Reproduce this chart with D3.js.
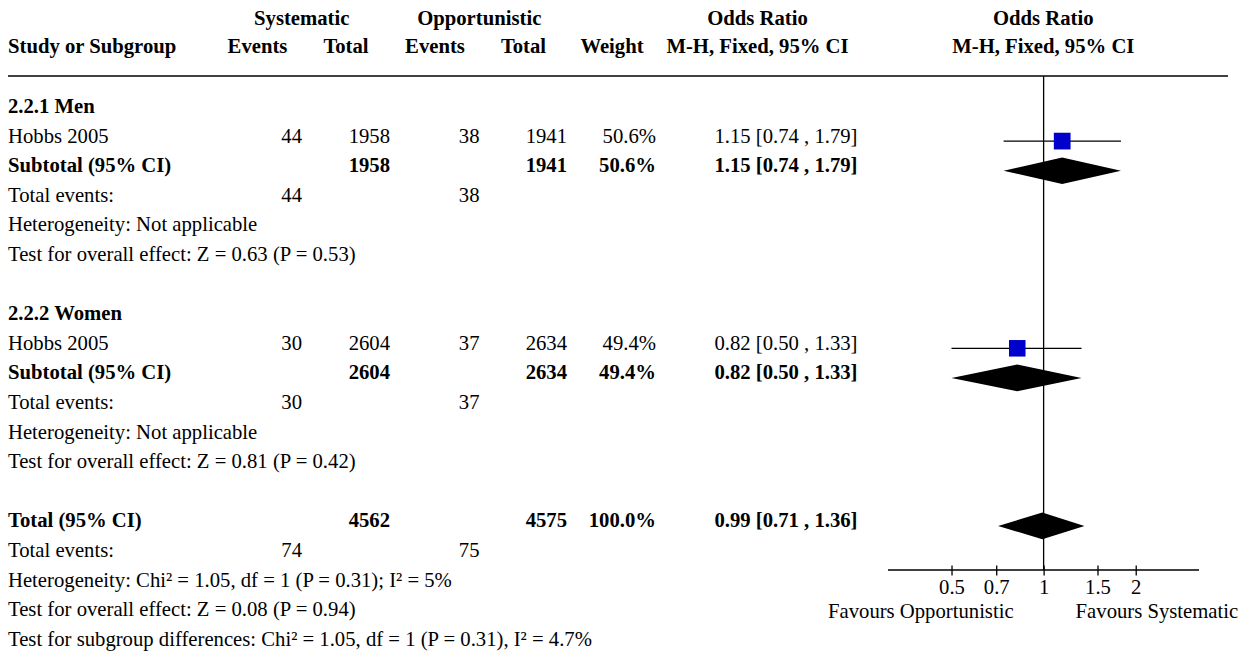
<!DOCTYPE html>
<html>
<head>
<meta charset="utf-8">
<script src="https://cdn.jsdelivr.net/npm/d3@7"></script>
<style>
  html, body { margin: 0; padding: 0; background: #fff; }
  svg text { font-family: "Liberation Serif", "Times New Roman", serif; font-size: 20.7px; fill: #000; }
  .b { font-weight: bold; }
</style>
</head>
<body>
<svg id="chart" width="1243" height="652"></svg>
<script>
// ---- Subgroup studies ----
const subgroupTitles = ["2.2.1 Men", "2.2.2 Women"];
const studyNames = ["Hobbs 2005", "Hobbs 2005"];
const sysEvents = [44, 30];
const sysTotals = [1958, 2604];
const oppEvents = [38, 37];
const oppTotals = [1941, 2634];
const studyWeights = [50.6, 49.4];
const studyOR = [1.15, 0.82];
const studyLow = [0.74, 0.50];
const studyHigh = [1.79, 1.33];

// ---- Subgroup subtotals ----
const subWeights = [50.6, 49.4];
const subOR = [1.15, 0.82];
const subLow = [0.74, 0.50];
const subHigh = [1.79, 1.33];
const subHeterogeneity = ["Heterogeneity: Not applicable", "Heterogeneity: Not applicable"];
const subEffect = ["Test for overall effect: Z = 0.63 (P = 0.53)", "Test for overall effect: Z = 0.81 (P = 0.42)"];

// ---- Pooled total ----
const totalEvents = [74, 75];
const totalN = [4562, 4575];
const totalWeight = [100.0];
const totalOR = [0.99];
const totalLow = [0.71];
const totalHigh = [1.36];
const totalNotes = [
  "Heterogeneity: Chi² = 1.05, df = 1 (P = 0.31); I² = 5%",
  "Test for overall effect: Z = 0.08 (P = 0.94)",
  "Test for subgroup differences: Chi² = 1.05, df = 1 (P = 0.31), I² = 4.7%"
];

// ---- Axis ----
const tickValues = [0.5, 0.7, 1, 1.5, 2];
const tickLabels = ["0.5", "0.7", "1", "1.5", "2"];
const axisDomain = [0.31, 3.22];
const favourLabels = ["Favours Opportunistic", "Favours Systematic"];

const svg = d3.select("#chart");
svg.append("rect").attr("width", 1243).attr("height", 652).attr("fill", "#fff");

const fmt2 = d3.format(".2f");
const fmtW = v => d3.format(".1f")(v) + "%";
const ciText = (e, l, h) => `${fmt2(e)} [${fmt2(l)} , ${fmt2(h)}]`;

// column anchors
const col = { name: 8, sysE: 302, sysN: 390, oppE: 479.5, oppN: 567, w: 656, or: 857.5 };
const hdr = { sysE: 257.5, sysN: 346, oppE: 435, oppN: 523.5, w: 612, or: 757.5, plot: 1043.3 };

// forest plot scales
const x = d3.scaleLog().domain(axisDomain).range([888, 1199]);
const y = d3.scaleLinear().domain([0, 18]).range([113, 645.8]);
const side = d3.scaleSqrt().domain([0, 100]).range([0, 23.5]);
const diamondHalf = 13.3;
const markShift = -1.5;

function txt(xp, yp, s, anchor, bold) {
  return svg.append("text").attr("x", xp).attr("y", yp)
    .attr("text-anchor", anchor || "start")
    .classed("b", !!bold).text(s);
}

// ---- Header ----
txt((hdr.sysE + hdr.sysN) / 2, 25, "Systematic", "middle", true);
txt((hdr.oppE + hdr.oppN) / 2, 25, "Opportunistic", "middle", true);
txt(hdr.or, 25, "Odds Ratio", "middle", true);
txt(hdr.plot, 25, "Odds Ratio", "middle", true);
txt(col.name, 53, "Study or Subgroup", "start", true);
txt(hdr.sysE, 53, "Events", "middle", true);
txt(hdr.sysN, 53, "Total", "middle", true);
txt(hdr.oppE, 53, "Events", "middle", true);
txt(hdr.oppN, 53, "Total", "middle", true);
txt(hdr.w, 53, "Weight", "middle", true);
txt(hdr.or, 53, "M-H, Fixed, 95% CI", "middle", true);
txt(hdr.plot, 53, "M-H, Fixed, 95% CI", "middle", true);

svg.append("line").attr("x1", 8).attr("x2", 1228).attr("y1", 76).attr("y2", 76)
  .attr("stroke", "#000").attr("stroke-width", 1.5);

// line of no effect
svg.append("line").attr("x1", x(1)).attr("x2", x(1)).attr("y1", 76).attr("y2", 570)
  .attr("stroke", "#000").attr("stroke-width", 1.3);

function diamond(row, est, lo, hi) {
  const cy = y(row) + markShift;
  const pts = [[x(lo), cy], [x(est), cy - diamondHalf], [x(hi), cy], [x(est), cy + diamondHalf]];
  svg.append("polygon").attr("points", pts.map(p => p.join(",")).join(" ")).attr("fill", "#000");
}

// ---- Subgroups ----
subgroupTitles.forEach((title, g) => {
  const r0 = g * 7;
  txt(col.name, y(r0), title, "start", true);

  // study row
  const r1 = r0 + 1;
  txt(col.name, y(r1), studyNames[g]);
  txt(col.sysE, y(r1), sysEvents[g], "end");
  txt(col.sysN, y(r1), sysTotals[g], "end");
  txt(col.oppE, y(r1), oppEvents[g], "end");
  txt(col.oppN, y(r1), oppTotals[g], "end");
  txt(col.w, y(r1), fmtW(studyWeights[g]), "end");
  txt(col.or, y(r1), ciText(studyOR[g], studyLow[g], studyHigh[g]), "end");
  const cy = y(r1) + markShift;
  svg.append("line").attr("x1", x(studyLow[g])).attr("x2", x(studyHigh[g]))
    .attr("y1", cy).attr("y2", cy).attr("stroke", "#000").attr("stroke-width", 1.2);
  const s = side(studyWeights[g]);
  svg.append("rect").attr("x", x(studyOR[g]) - s / 2).attr("y", cy - s / 2)
    .attr("width", s).attr("height", s).attr("fill", "#0000cc");

  // subtotal row
  const r2 = r0 + 2;
  txt(col.name, y(r2), "Subtotal (95% CI)", "start", true);
  txt(col.sysN, y(r2), sysTotals[g], "end", true);
  txt(col.oppN, y(r2), oppTotals[g], "end", true);
  txt(col.w, y(r2), fmtW(subWeights[g]), "end", true);
  txt(col.or, y(r2), ciText(subOR[g], subLow[g], subHigh[g]), "end", true);
  diamond(r2, subOR[g], subLow[g], subHigh[g]);

  // events & notes
  const r3 = r0 + 3;
  txt(col.name, y(r3), "Total events:");
  txt(col.sysE, y(r3), sysEvents[g], "end");
  txt(col.oppE, y(r3), oppEvents[g], "end");
  txt(col.name, y(r0 + 4), subHeterogeneity[g]);
  txt(col.name, y(r0 + 5), subEffect[g]);
});

// ---- Overall ----
const rt = 14;
txt(col.name, y(rt), "Total (95% CI)", "start", true);
txt(col.sysN, y(rt), totalN[0], "end", true);
txt(col.oppN, y(rt), totalN[1], "end", true);
txt(col.w, y(rt), fmtW(totalWeight[0]), "end", true);
txt(col.or, y(rt), ciText(totalOR[0], totalLow[0], totalHigh[0]), "end", true);
diamond(rt, totalOR[0], totalLow[0], totalHigh[0]);
txt(col.name, y(rt + 1), "Total events:");
txt(col.sysE, y(rt + 1), totalEvents[0], "end");
txt(col.oppE, y(rt + 1), totalEvents[1], "end");
totalNotes.forEach((n, i) => txt(col.name, y(rt + 2 + i), n));

// ---- Axis ----
const axisY = 570;
svg.append("line").attr("x1", x.range()[0]).attr("x2", x.range()[1])
  .attr("y1", axisY).attr("y2", axisY).attr("stroke", "#000").attr("stroke-width", 1.3);
const axis = d3.axisBottom(x).tickValues(tickValues)
  .tickFormat((d, i) => tickLabels[i]).tickSize(10).tickPadding(0);
const ag = svg.append("g").attr("transform", `translate(0,${axisY - 4.5})`).call(axis);
ag.select(".domain").remove();
ag.selectAll(".tick line").attr("stroke", "#000").attr("stroke-width", 1.3);
ag.selectAll(".tick text").attr("y", 28).attr("dy", null)
  .style("font-family", '"Liberation Serif", serif').style("font-size", "20.7px").attr("fill", "#000");

txt(x(1) - 30, 617.5, favourLabels[0], "end");
txt(x(1) + 32, 617.5, favourLabels[1], "start");
</script>
</body>
</html>
